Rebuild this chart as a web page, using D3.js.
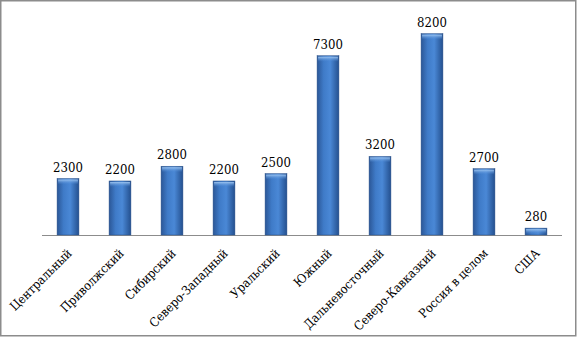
<!DOCTYPE html>
<html>
<head>
<meta charset="utf-8">
<script src="https://cdn.jsdelivr.net/npm/d3@7"></script>
<style>
  body { margin: 0; background: #fff; }
  svg { display: block; }
</style>
</head>
<body>
<div id="chart"></div>
<script>
// data
const regions = ["Центральный", "Приволжский", "Сибирский", "Северо-Западный", "Уральский",
  "Южный", "Дальневосточный", "Северо-Кавказкий", "Россия в целом", "США"];
const values = [2300, 2200, 2800, 2200, 2500, 7300, 3200, 8200, 2700, 280];

const width = 578, height = 338;
const baseY = 235;
const font = "'DejaVu Serif Condensed', 'DejaVu Serif', serif";

const svg = d3.select("#chart").append("svg")
  .attr("width", width)
  .attr("height", height);

//gradients
const defs = svg.append("defs");
const grad = defs.append("linearGradient").attr("id", "barGrad")
  .attr("x1", "0%").attr("x2", "100%").attr("y1", "0%").attr("y2", "0%");
grad.append("stop").attr("offset", "0%").attr("stop-color", "#2b5797");
grad.append("stop").attr("offset", "30%").attr("stop-color", "#3f7bc8");
grad.append("stop").attr("offset", "60%").attr("stop-color", "#4a88d6");
grad.append("stop").attr("offset", "100%").attr("stop-color", "#24508f");

const capGrad = defs.append("linearGradient").attr("id", "capGrad")
  .attr("x1", "0%").attr("x2", "0%").attr("y1", "0%").attr("y2", "100%");
capGrad.append("stop").attr("offset", "0%").attr("stop-color", "#9cc4f0");
capGrad.append("stop").attr("offset", "100%").attr("stop-color", "#4a88d6").attr("stop-opacity", 0);

//frame
svg.append("rect")
  .attr("x", 0.75).attr("y", 0.75)
  .attr("width", 575).attr("height", 335)
  .attr("fill", "none")
  .attr("stroke", "#8c8c8c")
  .attr("stroke-width", 1.5);

//scales
const x = d3.scaleBand().domain(regions).range([42, 562])
  .paddingInner(0.58).paddingOuter(0.29);
const y = d3.scaleLinear().domain([0, 9000]).range([baseY, baseY - 221]);

//axis line
svg.append("line")
  .attr("x1", 42).attr("x2", 562)
  .attr("y1", baseY + 0.5).attr("y2", baseY + 0.5)
  .attr("stroke", "#8c8c8c").attr("stroke-width", 1);

//bars
const bar = svg.selectAll("g.bar")
  .data(values)
  .join("g")
  .attr("class", "bar");

bar.append("rect")
  .attr("x", (d, i) => x(regions[i]))
  .attr("y", d => y(d))
  .attr("width", x.bandwidth())
  .attr("height", d => baseY - y(d))
  .attr("fill", "url(#barGrad)")
  .attr("stroke", "#2a5189")
  .attr("stroke-width", 0.5);

bar.append("rect")
  .attr("x", (d, i) => x(regions[i]) + 1)
  .attr("y", d => y(d) + 1)
  .attr("width", x.bandwidth() - 2)
  .attr("height", d => Math.min(5, baseY - y(d) - 2))
  .attr("fill", "url(#capGrad)");

//value labels
svg.selectAll("text.val")
  .data(values)
  .join("text")
  .attr("class", "val")
  .attr("font-family", font)
  .attr("font-size", 13)
  .attr("fill", "#000")
  .attr("text-anchor", "middle")
  .attr("x", (d, i) => x(regions[i]) + x.bandwidth() / 2)
  .attr("y", d => y(d) - 7)
  .text(d => d);

//category labels
svg.selectAll("text.cat")
  .data(regions)
  .join("text")
  .attr("class", "cat")
  .attr("font-family", font)
  .attr("font-size", 12.5)
  .attr("fill", "#000")
  .attr("text-anchor", "end")
  .attr("transform", d => `translate(${x(d) + x.bandwidth() / 2 + 1.5},${baseY + 16})rotate(-45)`)
  .attr("dy", "0.35em")
  .text(d => d);
</script>
</body>
</html>
